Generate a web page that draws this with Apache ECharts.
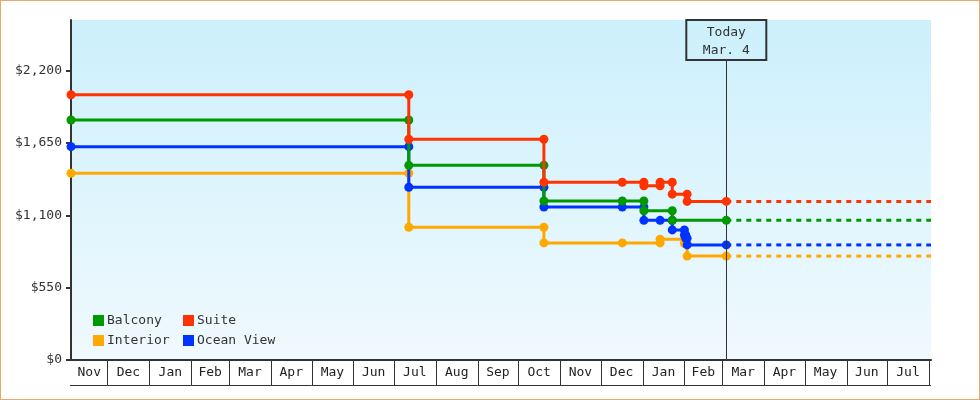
<!DOCTYPE html>
<html><head><meta charset="utf-8">
<script src="https://cdn.jsdelivr.net/npm/echarts@6/dist/echarts.min.js"></script>
<style>
html,body{margin:0;padding:0;background:#fff}
#chart{width:980px;height:400px;position:absolute;left:0;top:0}
#frame{position:absolute;left:0;top:0;width:980px;height:400px;box-sizing:border-box;border:1px solid #eaa968;pointer-events:none}
</style>
</head><body>
<div id="chart"></div><div id="frame"></div>
<script>
// ---- data ----
const axisStart = '2021-11-04';
const axisEnd = '2023-08-02 12:00';
const todayDate = '2023-03-04';
const todayText = 'Today\nMar. 4';
const todayLineTop = 2281;
const yMax = 2585;
const yTicks = [0, 550, 1100, 1650, 2200];
const monthBoundaries = ['2021-11-01','2021-12-01','2022-01-01','2022-02-01','2022-03-01','2022-04-01','2022-05-01','2022-06-01','2022-07-01','2022-08-01','2022-09-01','2022-10-01','2022-11-01','2022-12-01','2023-01-01','2023-02-01','2023-03-01','2023-04-01','2023-05-01','2023-06-01','2023-07-01','2023-08-01'];
const monthLabels = ['Nov','Dec','Jan','Feb','Mar','Apr','May','Jun','Jul','Aug','Sep','Oct','Nov','Dec','Jan','Feb','Mar','Apr','May','Jun','Jul'];

const interiorData = [['2021-11-04',1420],['2022-07-12',1420],['2022-07-12',1009],['2022-10-20',1009],['2022-10-20',890],['2022-12-17',890],['2023-01-14',890],['2023-01-14',918],['2023-02-01',918],['2023-02-01',885],['2023-02-03',885],['2023-02-03',790],['2023-03-04',790]];
const oceanViewData = [['2021-11-04',1622],['2022-07-12',1622],['2022-07-12',1313],['2022-10-20',1313],['2022-10-20',1163],['2022-12-17',1163],['2023-01-02',1163],['2023-01-02',1062],['2023-01-14',1062],['2023-01-23',1062],['2023-01-23',989],['2023-02-01',989],['2023-02-01',951],['2023-02-02',951],['2023-02-02',925],['2023-02-03',925],['2023-02-03',875],['2023-03-04',875]];
const balconyData = [['2021-11-04',1825],['2022-07-12',1825],['2022-07-12',1480],['2022-10-20',1480],['2022-10-20',1209],['2022-12-17',1209],['2023-01-02',1209],['2023-01-02',1135],['2023-01-23',1135],['2023-01-23',1062],['2023-03-04',1062]];
const suiteData = [['2021-11-04',2017],['2022-07-12',2017],['2022-07-12',1678],['2022-10-20',1678],['2022-10-20',1351],['2022-12-17',1351],['2023-01-02',1351],['2023-01-02',1325],['2023-01-14',1325],['2023-01-14',1351],['2023-01-23',1351],['2023-01-23',1261],['2023-02-03',1261],['2023-02-03',1206],['2023-03-04',1206]];

const seriesNames = ['Interior','Ocean View','Balcony','Suite'];
const seriesColors = ['#ffa800','#0033ff','#009900','#ff3300'];
const seriesData = [interiorData, oceanViewData, balconyData, suiteData];
const legendColumn1 = ['Balcony','Interior'];
const legendColumn2 = ['Suite','Ocean View'];

// ---- chart ----
const FONT = '"DejaVu Sans Mono", "Liberation Mono", monospace';
const t = s => echarts.time.parse(s);
const chart = echarts.init(document.getElementById('chart'), null, {renderer:'canvas'});

function renderMonth(params, api) {
  const cs = params.coordSys;
  const left = cs.x, right = cs.x + cs.width, bottom = cs.y + cs.height;
  const i = params.dataIndex;
  const x0 = api.coord([api.value(0), 0])[0];
  const x1 = api.coord([api.value(1), 0])[0];
  const isLast = i === monthLabels.length - 1;
  const cx0 = Math.max(x0, left), cx1 = Math.min(x1, right);
  const by = Math.round(bottom + 25) + 0.5;
  const children = [];
  children.push({type:'line', shape:{x1: i === 0 ? left - 1 : cx0, y1: by, x2: isLast ? right : cx1, y2: by}, style:{stroke:'#333', lineWidth:1}});
  if (x1 <= right + 0.5) {
    const xr = Math.round(x1) + 0.5;
    children.push({type:'line', shape:{x1: xr, y1: bottom, x2: xr, y2: by}, style:{stroke:'#333', lineWidth:1}});
  }
  children.push({type:'text', style:{x:(cx0 + cx1) / 2, y: bottom + 13, text: monthLabels[i], align:'center', verticalAlign:'middle', font:'13px ' + FONT, fill:'#222'}});
  return {type:'group', children};
}

const series = [];
seriesNames.forEach((name, k) => {
  const s = {
    name, type:'line', data: seriesData[k], color: seriesColors[k],
    symbol:'circle', symbolSize:9, showSymbol:true, showAllSymbol:true,
    lineStyle:{width:3, color: seriesColors[k]},
    itemStyle:{color: seriesColors[k]},
    silent:true, z: 3 + k, clip:false
  };
  if (k === 0) {
    s.markLine = {
      silent:true, symbol:['none','none'], animation:false,
      lineStyle:{color:'#333', width:1, type:'solid'},
      data:[[{coord:[todayDate, 0]}, {coord:[todayDate, todayLineTop]}]],
      label:{show:true, position:'end', distance:0, formatter: todayText,
        color:'#333', fontFamily: FONT, fontSize:13, lineHeight:18.5,
        padding:[3,16,0,16], width:48, align:'center',
        borderColor:'#333', borderWidth:1, backgroundColor:'transparent'}
    };
  }
  series.push(s);
  const last = seriesData[k][seriesData[k].length - 1];
  series.push({
    name: name + ' forecast', type:'line', data:[[todayDate, last[1]], [axisEnd, last[1]]],
    symbol:'none', lineStyle:{width:3, type:[5,5], color: seriesColors[k]},
    color: seriesColors[k], silent:true, z: 2 + k
  });
});
series.push({
  type:'custom', name:'months', renderItem: renderMonth, clip:false, silent:true,
  encode:{x:[0,1], y:2},
  data: monthLabels.map((l, i) => [t(monthBoundaries[i]), t(monthBoundaries[i + 1]), 0])
});

const legendBase = {orient:'vertical', top:314, padding:0,
  itemGap:7, itemWidth:11, itemHeight:11, icon:'rect', selectedMode:false,
  textStyle:{fontFamily: FONT, fontSize:13, color:'#333', padding:[0,0,0,-2]}};

chart.setOption({
  animation:false,
  backgroundColor:'#fff',
  grid:{left:71, right:49, top:20, bottom:40, show:true, borderWidth:0,
    backgroundColor: new echarts.graphic.LinearGradient(0,0,0,1,[{offset:0,color:'#ccf0fc'},{offset:1,color:'#f0f9fe'}])},
  legend:[
    Object.assign({}, legendBase, {data: legendColumn1, left:93}),
    Object.assign({}, legendBase, {data: legendColumn2, left:183})
  ],
  xAxis:{type:'time', min: t(axisStart), max: t(axisEnd),
    axisLine:{show:true, lineStyle:{color:'#333', width:2}},
    axisTick:{show:false}, axisLabel:{show:false}, splitLine:{show:false}},
  yAxis:{type:'value', min:0, max:yMax, interval:550,
    axisLine:{show:true, lineStyle:{color:'#333', width:2}},
    axisTick:{show:true, length:5, lineStyle:{color:'#333', width:2}, customValues: yTicks},
    axisLabel:{show:true, margin:9, color:'#333', fontFamily: FONT, fontSize:13, customValues: yTicks,
      formatter: v => '$' + Number(v).toLocaleString('en-US')},
    splitLine:{show:false}},
  series
});
</script>
</body></html>
